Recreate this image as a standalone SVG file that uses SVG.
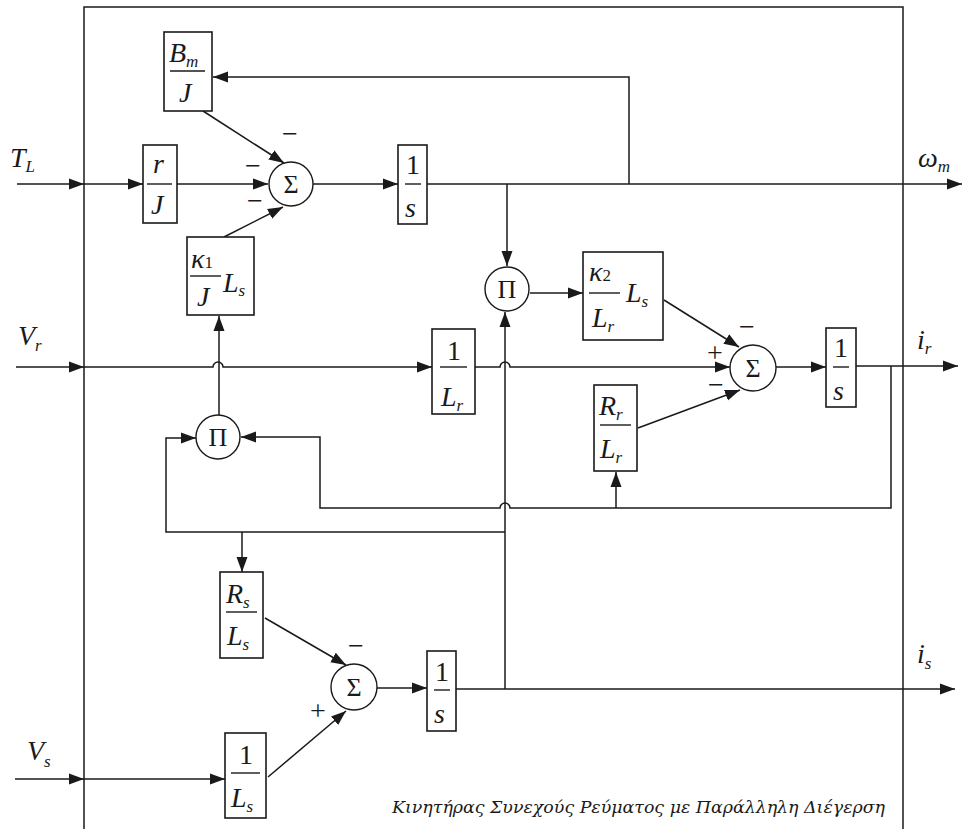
<svg xmlns="http://www.w3.org/2000/svg" width="964" height="829" viewBox="0 0 964 829">
<defs>
<marker id="ah" markerUnits="userSpaceOnUse" markerWidth="16" markerHeight="12" refX="15" refY="6" orient="auto">
<path d="M0,0.5 L15,6 L0,11.5 z" fill="#1a1a1a"/>
</marker>
</defs>
<style>
.ln{fill:none;stroke:#1a1a1a;stroke-width:1.5}
.ar{fill:none;stroke:#1a1a1a;stroke-width:1.5;marker-end:url(#ah)}
.box{fill:#fff;stroke:#1a1a1a;stroke-width:1.6}
.fr{stroke:#1a1a1a;stroke-width:1.4}
.circ{fill:#fff;stroke:#1a1a1a;stroke-width:1.4}
.t{font-family:"Liberation Serif",serif;font-style:italic;font-size:28px;fill:#1a1a1a}
.n{font-style:normal}
.sb{font-size:17px}
.sym{font-family:"Liberation Serif",serif;font-size:26px;fill:#1a1a1a;text-anchor:middle}
.sg{font-family:"Liberation Serif",serif;font-size:28px;fill:#1a1a1a;text-anchor:middle}
.cap{font-family:"DejaVu Serif",serif;font-style:italic;font-size:16px;fill:#1a1a1a}
</style>
<rect width="964" height="829" fill="#fff"/>
<path class="ln" d="M84,829 V7 H903 V829"/>
<g id="connectors">
<path class="ar" d="M17,184 H84"/>
<path class="ar" d="M84,184 H143"/>
<path class="ar" d="M177,184 H268"/>
<path class="ar" d="M313,184 H398"/>
<path class="ar" d="M427,184 H962"/>
<path class="ar" d="M629,184 V77 H213"/>
<path class="ar" d="M203,111 L284,163"/>
<path class="ar" d="M224,237 L283,207"/>
<path class="ar" d="M507,184 V266"/>
<path class="ar" d="M530,293 H583"/>
<path class="ar" d="M664,300 L739,347"/>
<path class="ar" d="M638,428 L740,390"/>
<path class="ar" d="M16,367 H84"/>
<path class="ar" d="M84,367 H213 a5,5 0 0 1 10,0 H432"/>
<path class="ar" d="M475,367 H500 a5,5 0 0 1 10,0 H730"/>
<path class="ar" d="M776,367 H826"/>
<path class="ar" d="M856,366 H958"/>
<path class="ar" d="M891,366 V508 H510 a5,5 0 0 0 -10,0 H320 V437 H241"/>
<path class="ar" d="M616,508 V472"/>
<path class="ar" d="M219,415 V316"/>
<path class="ar" d="M505,689 V312"/>
<path class="ar" d="M505,532 H166 V438 H196"/>
<path class="ar" d="M242,532 V572"/>
<path class="ar" d="M265,618 L346,665"/>
<path class="ar" d="M268,777 L346,711"/>
<path class="ar" d="M15,779 H84"/>
<path class="ar" d="M84,779 H225"/>
<path class="ar" d="M377,688 H427"/>
<path class="ar" d="M456,689 H955"/>
</g>
<g id="n_BmJ">
<rect class="box" x="164" y="32" width="48" height="79"/>
<line class="fr" x1="170" y1="71" x2="205" y2="71"/>
<text class="t" x="169" y="62">B<tspan class="sb" dy="5">m</tspan></text>
<text class="t" x="179" y="102">J</text>
</g>
<g id="n_rJ">
<rect class="box" x="143" y="145" width="34" height="78"/>
<line class="fr" x1="147" y1="184" x2="172" y2="184"/>
<text class="t" x="153" y="173">r</text>
<text class="t" x="151" y="214">J</text>
</g>
<g id="n_sum1">
<circle class="circ" cx="291" cy="184" r="22"/>
<text class="sym" x="291" y="193">Σ</text>
<text class="sg" x="290" y="143">−</text>
<text class="sg" x="253" y="175">−</text>
<text class="sg" x="255" y="210">−</text>
</g>
<g id="n_k1">
<rect class="box" x="187" y="237" width="67" height="78"/>
<line class="fr" x1="190" y1="276" x2="221" y2="276"/>
<text class="t" x="191" y="268">κ<tspan class="sb n" dy="0">1</tspan></text>
<text class="t" x="197" y="306">J</text>
<text class="t" x="223" y="292">L<tspan class="sb" dy="4">s</tspan></text>
</g>
<g id="n_int1">
<rect class="box" x="398" y="145" width="29" height="79"/>
<line class="fr" x1="405" y1="184" x2="421" y2="184"/>
<text class="t n" x="406" y="174">1</text>
<text class="t" x="405" y="217">s</text>
</g>
<g id="n_pi1">
<circle class="circ" cx="507" cy="289" r="22"/>
<text class="sym" x="507" y="298">Π</text>
</g>
<g id="n_k2">
<rect class="box" x="583" y="252" width="80" height="88"/>
<line class="fr" x1="589" y1="293" x2="620" y2="293"/>
<text class="t" x="589" y="281">κ<tspan class="sb n" dy="0">2</tspan></text>
<text class="t" x="592" y="327">L<tspan class="sb" dy="5">r</tspan></text>
<text class="t" x="626" y="302">L<tspan class="sb" dy="5">s</tspan></text>
</g>
<g id="n_1Lr">
<rect class="box" x="432" y="329" width="43" height="85"/>
<line class="fr" x1="440" y1="367" x2="467" y2="367"/>
<text class="t n" x="447" y="360">1</text>
<text class="t" x="441" y="406">L<tspan class="sb" dy="5">r</tspan></text>
</g>
<g id="n_sum2">
<circle class="circ" cx="753" cy="368" r="23"/>
<text class="sym" x="753" y="377">Σ</text>
<text class="sg" x="747" y="336">−</text>
<text class="sg" x="715" y="362">+</text>
<text class="sg" x="716" y="394">−</text>
</g>
<g id="n_RrLr">
<rect class="box" x="594" y="385" width="43" height="86"/>
<line class="fr" x1="600" y1="425" x2="631" y2="425"/>
<text class="t" x="599" y="415">R<tspan class="sb" dy="5">r</tspan></text>
<text class="t" x="600" y="458">L<tspan class="sb" dy="5">r</tspan></text>
</g>
<g id="n_int2">
<rect class="box" x="826" y="328" width="30" height="79"/>
<line class="fr" x1="833" y1="367" x2="849" y2="367"/>
<text class="t n" x="834" y="357">1</text>
<text class="t" x="833" y="400">s</text>
</g>
<g id="n_pi2">
<circle class="circ" cx="218" cy="437" r="22"/>
<text class="sym" x="218" y="446">Π</text>
</g>
<g id="n_RsLs">
<rect class="box" x="220" y="572" width="43" height="86"/>
<line class="fr" x1="226" y1="612" x2="257" y2="612"/>
<text class="t" x="226" y="603">R<tspan class="sb" dy="5">s</tspan></text>
<text class="t" x="227" y="645">L<tspan class="sb" dy="5">s</tspan></text>
</g>
<g id="n_sum3">
<circle class="circ" cx="354" cy="687" r="23"/>
<text class="sym" x="354" y="696">Σ</text>
<text class="sg" x="356" y="655">−</text>
<text class="sg" x="318" y="720">+</text>
</g>
<g id="n_int3">
<rect class="box" x="427" y="651" width="29" height="80"/>
<line class="fr" x1="434" y1="690" x2="450" y2="690"/>
<text class="t n" x="435" y="681">1</text>
<text class="t" x="434" y="723">s</text>
</g>
<g id="n_1Ls">
<rect class="box" x="225" y="733" width="41" height="85"/>
<line class="fr" x1="231" y1="773" x2="260" y2="773"/>
<text class="t n" x="239" y="764">1</text>
<text class="t" x="231" y="807">L<tspan class="sb" dy="5">s</tspan></text>
</g>
<g id="labels">
<text class="t" x="10" y="167">T<tspan class="sb" dy="5">L</tspan></text>
<text class="t" x="18" y="345">V<tspan class="sb" dy="6">r</tspan></text>
<text class="t" x="27" y="760">V<tspan class="sb" dy="7">s</tspan></text>
<text class="t" x="918" y="167">ω<tspan class="sb" dy="5">m</tspan></text>
<text class="t" x="917" y="349">i<tspan class="sb" dy="5">r</tspan></text>
<text class="t" x="917" y="663">i<tspan class="sb" dy="6">s</tspan></text>
<text class="cap" x="392" y="813" textLength="493" lengthAdjust="spacingAndGlyphs">Κινητήρας Συνεχούς Ρεύματος με Παράλληλη Διέγερση</text>
</g>
</svg>
